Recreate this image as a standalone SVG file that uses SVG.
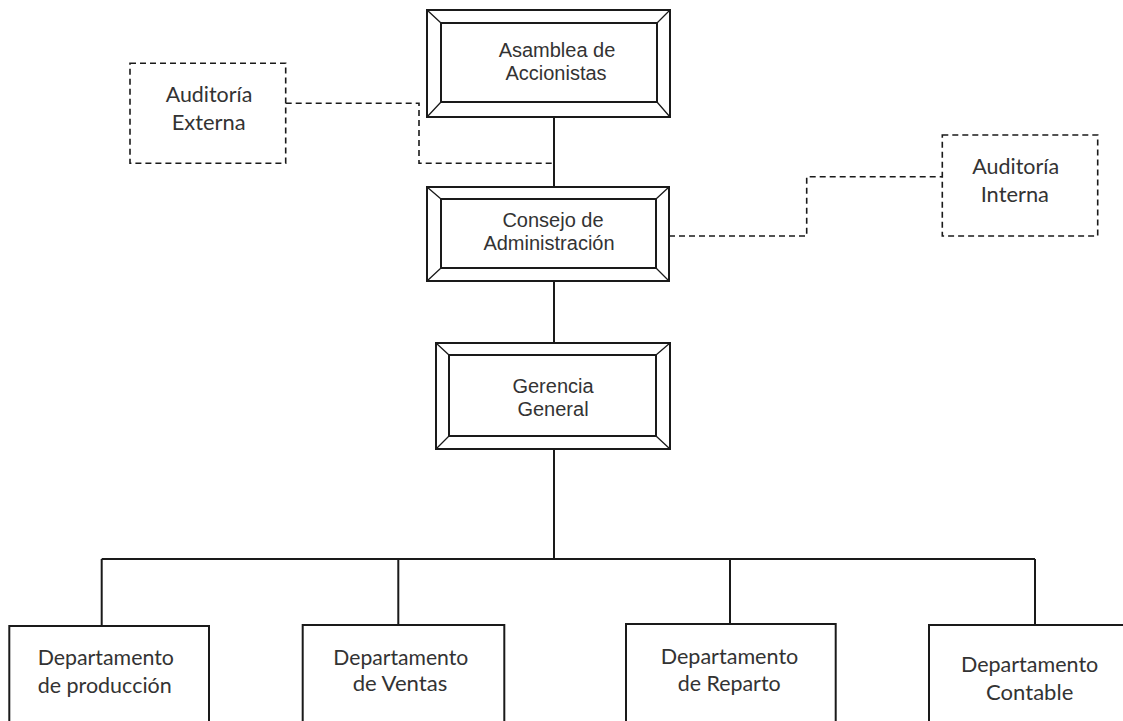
<svg xmlns="http://www.w3.org/2000/svg" width="1123" height="721" viewBox="0 0 1123 721">
<style>
.bg{fill:#ffffff}
.frame{fill:#ffffff;stroke:#1a1a1a;stroke-width:2}
.bevel{fill:none;stroke:#1a1a1a;stroke-width:1.3}
.box{fill:#ffffff;stroke:#1a1a1a;stroke-width:2}
.dbox{fill:#ffffff;stroke:#1a1a1a;stroke-width:1.6;stroke-dasharray:6 4}
.line{fill:none;stroke:#1a1a1a;stroke-width:2}
.dline{fill:none;stroke:#1a1a1a;stroke-width:1.6;stroke-dasharray:6 4}
.ta{font-family:"Liberation Sans",Arial,sans-serif;font-size:20px;fill:#333333;text-anchor:middle}
.tc{font-family:Lato,"Open Sans",sans-serif;font-size:20.5px;fill:#333333;text-anchor:middle}
</style>
<rect class="bg" x="0" y="0" width="1123" height="721"/>
<g id="connectors">
<path class="line" d="M554 117V187M554 281V343M554 449V559M101.7 559H1035M101.7 559V626M398.3 559V625M730 559V624M1035 559V625"/>
<path class="dline" d="M285.7 103.3H419V163.3H554"/>
<path class="dline" d="M669 236H806.7V176.7H942.3"/>
</g>
<g id="asamblea">
<rect class="frame" x="427" y="10" width="243" height="107"/>
<rect class="frame" x="441" y="23" width="216" height="79"/>
<path class="bevel" d="M427 10L441 23M670 10L657 23M427 117L441 102M670 117L657 102"/>
<text class="ta" x="557" y="57">Asamblea de</text>
<text class="ta" x="556" y="80">Accionistas</text>
</g>
<g id="consejo">
<rect class="frame" x="427" y="187" width="242" height="94"/>
<rect class="frame" x="441" y="199" width="215" height="69"/>
<path class="bevel" d="M427 187L441 199M669 187L656 199M427 281L441 268M669 281L656 268"/>
<text class="ta" x="553" y="227">Consejo de</text>
<text class="ta" x="549" y="250">Administración</text>
</g>
<g id="gerencia">
<rect class="frame" x="436" y="343" width="234" height="106"/>
<rect class="frame" x="449" y="355" width="207" height="81"/>
<path class="bevel" d="M436 343L449 355M670 343L656 355M436 449L449 436M670 449L656 436"/>
<text class="ta" x="553" y="393">Gerencia</text>
<text class="ta" x="553" y="416">General</text>
</g>
<g id="auditoria-externa">
<rect class="dbox" x="130" y="63.3" width="155.7" height="100"/>
<text class="tc" x="209" y="101.7" textLength="86.6" lengthAdjust="spacingAndGlyphs">Auditoría</text>
<text class="tc" x="208.7" y="130" textLength="74" lengthAdjust="spacingAndGlyphs">Externa</text>
</g>
<g id="auditoria-interna">
<rect class="dbox" x="942.3" y="135" width="155.4" height="101"/>
<text class="tc" x="1015.7" y="174" textLength="86.7" lengthAdjust="spacingAndGlyphs">Auditoría</text>
<text class="tc" x="1014.8" y="201.7" textLength="68.3" lengthAdjust="spacingAndGlyphs">Interna</text>
</g>
<g id="dep-produccion">
<rect class="box" x="9.3" y="626" width="199.7" height="120"/>
<text class="tc" x="105.8" y="665" textLength="136.3" lengthAdjust="spacingAndGlyphs">Departamento</text>
<text class="tc" x="104.7" y="693" textLength="134" lengthAdjust="spacingAndGlyphs">de producción</text>
</g>
<g id="dep-ventas">
<rect class="box" x="302.7" y="625" width="201.6" height="120"/>
<text class="tc" x="400.8" y="665" textLength="135" lengthAdjust="spacingAndGlyphs">Departamento</text>
<text class="tc" x="400" y="691" textLength="94.6" lengthAdjust="spacingAndGlyphs">de Ventas</text>
</g>
<g id="dep-reparto">
<rect class="box" x="626" y="624" width="209.7" height="120"/>
<text class="tc" x="729.5" y="664" textLength="137.6" lengthAdjust="spacingAndGlyphs">Departamento</text>
<text class="tc" x="729.2" y="690.7" textLength="103" lengthAdjust="spacingAndGlyphs">de Reparto</text>
</g>
<g id="dep-contable">
<rect class="box" x="929" y="625" width="210" height="120"/>
<text class="tc" x="1029.6" y="671.7" textLength="137.3" lengthAdjust="spacingAndGlyphs">Departamento</text>
<text class="tc" x="1029.7" y="700" textLength="87.3" lengthAdjust="spacingAndGlyphs">Contable</text>
</g>
</svg>
